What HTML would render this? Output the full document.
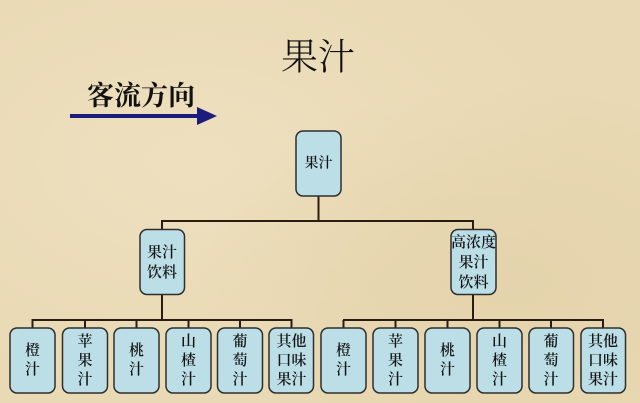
<!DOCTYPE html>
<html><head><meta charset="utf-8"><style>
html,body{margin:0;padding:0;}
body{width:640px;height:403px;overflow:hidden;background:#e9d9b4;}
svg{display:block;}
</style></head><body>
<svg width="640" height="403" viewBox="0 0 640 403" xmlns="http://www.w3.org/2000/svg">
<defs>
<radialGradient id="g1" cx="0.3" cy="0.4" r="0.6"><stop offset="0" stop-color="#eee0bf"/><stop offset="1" stop-color="#eee0bf" stop-opacity="0"/></radialGradient>
<radialGradient id="g2" cx="0.8" cy="0.7" r="0.5"><stop offset="0" stop-color="#e4d3ab"/><stop offset="1" stop-color="#e4d3ab" stop-opacity="0"/></radialGradient>
</defs>
<rect width="640" height="403" fill="#e9d9b4"/>
<rect width="640" height="403" fill="url(#g1)"/>
<rect width="640" height="403" fill="url(#g2)"/>

<!-- title -->
<text x="318" y="58" font-family="'Liberation Serif','Noto Serif CJK SC',serif" font-size="37" font-weight="300" fill="#111" text-anchor="middle" dominant-baseline="central">果汁</text>

<!-- 客流方向 -->
<text x="141" y="96" font-family="'Liberation Serif','Noto Serif CJK SC',serif" font-size="27" font-weight="bold" fill="#111" text-anchor="middle" dominant-baseline="central">客流方向</text>
<line x1="70" y1="116" x2="200" y2="116" stroke="#1c1c7c" stroke-width="4"/>
<polygon points="197,107 217,116 197,125" fill="#1c1c7c"/>

<!-- connectors -->
<g stroke="#2a1c10" stroke-width="2" fill="none">
<line x1="318.5" y1="196" x2="318.5" y2="221"/>
<line x1="161" y1="221" x2="474" y2="221"/>
<line x1="162" y1="221" x2="162" y2="230"/>
<line x1="473" y1="221" x2="473" y2="230"/>
<line x1="162" y1="294" x2="162" y2="320"/>
<line x1="473" y1="294" x2="473" y2="320"/>
<line x1="31.5" y1="320" x2="292.5" y2="320"/>
<line x1="343" y1="320" x2="604" y2="320"/>
<line x1="32.5" y1="320" x2="32.5" y2="328"/>
<line x1="85" y1="320" x2="85" y2="328"/>
<line x1="136.5" y1="320" x2="136.5" y2="328"/>
<line x1="188.5" y1="320" x2="188.5" y2="328"/>
<line x1="240" y1="320" x2="240" y2="328"/>
<line x1="291.5" y1="320" x2="291.5" y2="328"/>
<line x1="343.5" y1="320" x2="343.5" y2="328"/>
<line x1="395.5" y1="320" x2="395.5" y2="328"/>
<line x1="447.5" y1="320" x2="447.5" y2="328"/>
<line x1="499.5" y1="320" x2="499.5" y2="328"/>
<line x1="551" y1="320" x2="551" y2="328"/>
<line x1="603" y1="320" x2="603" y2="328"/>
</g>

<!-- boxes -->
<g fill="#bcdfe7" stroke="#2e2e2e" stroke-width="1.5">
<rect x="296" y="131" width="45" height="65" rx="7"/>
<rect x="140" y="229.5" width="44.5" height="65" rx="7"/>
<rect x="451" y="229.5" width="45" height="65" rx="7"/>
<rect x="10" y="328" width="45" height="65" rx="7"/>
<rect x="62.5" y="328" width="45" height="65" rx="7"/>
<rect x="114" y="328" width="45" height="65" rx="7"/>
<rect x="166" y="328" width="45" height="65" rx="7"/>
<rect x="217.5" y="328" width="45" height="65" rx="7"/>
<rect x="269" y="328" width="44.5" height="65" rx="7"/>
<rect x="321" y="328" width="45" height="65" rx="7"/>
<rect x="373" y="328" width="45" height="65" rx="7"/>
<rect x="425" y="328" width="45" height="65" rx="7"/>
<rect x="477" y="328" width="45" height="65" rx="7"/>
<rect x="529" y="328" width="44.5" height="65" rx="7"/>
<rect x="581" y="328" width="44.5" height="65" rx="7"/>
</g>

<!-- box text -->
<g font-family="'Liberation Serif','Noto Serif CJK SC',serif" font-size="15" font-weight="600" fill="#151515" text-anchor="middle" dominant-baseline="central">
<text x="318.5" y="164" font-size="14">果汁</text>

<text x="162" y="253">果汁</text>
<text x="162" y="273">饮料</text>

<text x="473.5" y="243">高浓度</text>
<text x="473.5" y="263">果汁</text>
<text x="473.5" y="283">饮料</text>

<!-- left group -->
<text x="32.5" y="351">橙</text><text x="32.5" y="370">汁</text>
<text x="85" y="342">苹</text><text x="85" y="361">果</text><text x="85" y="380">汁</text>
<text x="136.5" y="351">桃</text><text x="136.5" y="370">汁</text>
<text x="188.5" y="342">山</text><text x="188.5" y="361">楂</text><text x="188.5" y="380">汁</text>
<text x="240" y="342">葡</text><text x="240" y="361">萄</text><text x="240" y="380">汁</text>
<text x="291.5" y="342">其他</text><text x="291.5" y="361">口味</text><text x="291.5" y="380">果汁</text>

<!-- right group -->
<text x="343.5" y="351">橙</text><text x="343.5" y="370">汁</text>
<text x="395.5" y="342">苹</text><text x="395.5" y="361">果</text><text x="395.5" y="380">汁</text>
<text x="447.5" y="351">桃</text><text x="447.5" y="370">汁</text>
<text x="499.5" y="342">山</text><text x="499.5" y="361">楂</text><text x="499.5" y="380">汁</text>
<text x="551" y="342">葡</text><text x="551" y="361">萄</text><text x="551" y="380">汁</text>
<text x="603" y="342">其他</text><text x="603" y="361">口味</text><text x="603" y="380">果汁</text>
</g>
</svg>
</body></html>
